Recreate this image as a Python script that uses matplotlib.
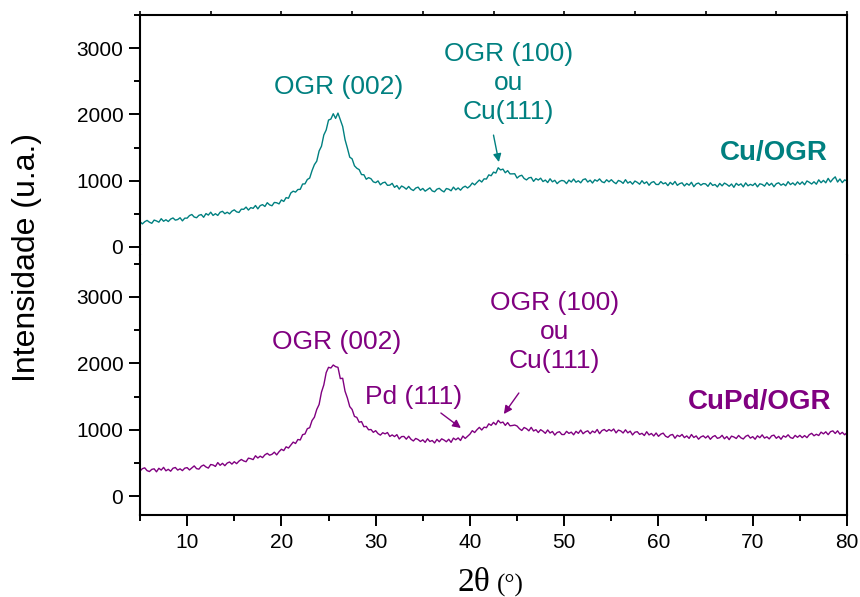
import numpy as np
import matplotlib
matplotlib.use("Agg")
import matplotlib.pyplot as plt
from matplotlib.ticker import MultipleLocator, FixedLocator

plt.rcParams['font.family'] = ['Liberation Sans', 'DejaVu Sans']

# 2-theta grid (degrees), 0.25 deg step from 5 to 80
two_theta = np.arange(5.0, 80.0001, 0.25)

# Cu/OGR diffractogram (counts)
cu_ogr = [
    382, 348, 381, 401, 374, 357, 406, 393, 374, 427, 388, 411, 384, 421, 438, 405, 414, 441, 394, 435,
    435, 474, 490, 452, 441, 478, 489, 448, 504, 481, 525, 476, 502, 476, 524, 538, 502, 524, 500, 540,
    560, 530, 521, 571, 568, 602, 557, 594, 583, 626, 575, 624, 639, 611, 668, 635, 622, 672, 667, 650,
    710, 687, 745, 735, 815, 842, 828, 867, 870, 950, 952, 1018, 1040, 1152, 1242, 1295, 1448, 1520, 1690, 1765,
    1915, 1930, 2010, 1940, 2020, 1920, 1818, 1620, 1492, 1355, 1330, 1225, 1188, 1167, 1092, 1090, 1022, 1046, 1030, 983,
    970, 997, 938, 968, 978, 930, 933, 960, 900, 927, 873, 920, 901, 872, 913, 872, 852, 889, 903, 856,
    883, 842, 868, 892, 846, 833, 872, 885, 852, 831, 882, 872, 848, 903, 862, 891, 857, 898, 917, 890,
    918, 965, 937, 975, 1010, 980, 1028, 1025, 1088, 1075, 1130, 1115, 1195, 1162, 1175, 1120, 1152, 1103, 1103, 1105,
    1040, 1070, 1082, 1033, 1012, 1043, 1050, 990, 1032, 1010, 1038, 987, 1010, 972, 1029, 983, 1006, 956, 989, 1004,
    995, 956, 1009, 980, 1025, 977, 999, 968, 1016, 1028, 980, 1008, 965, 1014, 993, 1027, 984, 970, 1014, 983,
    1015, 979, 955, 1004, 989, 960, 1015, 964, 987, 948, 995, 975, 947, 1000, 957, 983, 931, 973, 986, 944,
    942, 987, 953, 969, 926, 975, 942, 988, 930, 956, 968, 921, 958, 932, 976, 910, 952, 965, 932, 956,
    952, 915, 969, 929, 943, 906, 959, 922, 964, 944, 916, 950, 900, 960, 930, 953, 907, 967, 923, 945,
    927, 961, 907, 953, 944, 918, 971, 930, 961, 909, 955, 968, 932, 953, 924, 985, 941, 967, 933, 982,
    945, 982, 939, 996, 976, 950, 984, 947, 1013, 970, 1005, 968, 1035, 980, 1025, 1058, 980, 1026, 971, 1012,
    995,
]

# CuPd/OGR diffractogram (counts)
cupd_ogr = [
    377, 412, 425, 383, 369, 402, 410, 365, 418, 391, 432, 380, 403, 374, 419, 430, 391, 410, 383, 420,
    428, 393, 424, 454, 413, 405, 449, 467, 438, 421, 475, 468, 446, 504, 463, 493, 457, 497, 513, 481,
    517, 488, 526, 551, 529, 517, 571, 563, 549, 607, 573, 601, 579, 621, 643, 615, 629, 661, 620, 668,
    705, 685, 742, 723, 768, 813, 792, 852, 845, 925, 935, 1015, 1030, 1138, 1188, 1305, 1380, 1565, 1675, 1860,
    1940, 1930, 1975, 1950, 1940, 1770, 1775, 1580, 1478, 1348, 1305, 1200, 1185, 1112, 1122, 1045, 1050, 998, 1003, 960,
    985, 941, 918, 954, 937, 957, 898, 921, 896, 925, 860, 896, 898, 857, 901, 855, 830, 868, 851, 822,
    847, 809, 863, 822, 837, 800, 854, 818, 862, 844, 818, 856, 809, 873, 848, 876, 837, 904, 868, 900,
    933, 985, 957, 1000, 1035, 995, 1038, 1030, 1088, 1065, 1110, 1075, 1140, 1102, 1115, 1065, 1107, 1058, 1063, 1070,
    1055, 1015, 988, 1033, 1015, 983, 1035, 980, 1000, 957, 1000, 977, 945, 996, 950, 973, 919, 958, 969, 927,
    927, 975, 944, 963, 923, 975, 945, 994, 939, 968, 983, 939, 979, 956, 1003, 940, 986, 1003, 974, 1002,
    980, 1010, 952, 994, 981, 950, 998, 952, 978, 921, 962, 970, 929, 945, 912, 969, 921, 943, 905, 950,
    900, 933, 948, 902, 884, 918, 928, 871, 916, 897, 928, 880, 906, 869, 927, 882, 906, 857, 891, 907,
    875, 907, 855, 893, 911, 870, 880, 915, 863, 897, 850, 903, 890, 867, 913, 877, 860, 900, 917, 873,
    895, 856, 908, 879, 922, 873, 893, 861, 907, 918, 870, 899, 856, 907, 887, 923, 881, 869, 914, 885,
    915, 880, 911, 880, 925, 945, 908, 931, 912, 963, 937, 968, 925, 970, 982, 943, 983, 932, 960, 923,
    955,
]

y_ticks = [0, 1000, 2000, 3000]
x_ticks = [10, 20, 30, 40, 50, 60, 70, 80]

TEAL = '#008080'
PURPLE = '#800080'

W, H = 860, 597
fig = plt.figure(figsize=(W / 100, H / 100), dpi=100)

left, right = 140 / W, 847 / W
y_top, y_mid, y_bot = 1 - 15 / H, 1 - 255 / H, 1 - 515 / H

ax_top = fig.add_axes([left, y_mid, right - left, y_top - y_mid])
ax_bot = fig.add_axes([left, y_bot, right - left, y_mid - y_bot], sharex=ax_top)

ax_top.plot(two_theta, cu_ogr, color=TEAL, lw=1.0)
ax_bot.plot(two_theta, cupd_ogr, color=PURPLE, lw=1.0)

ax_top.set_xlim(5, 80)
ax_top.set_ylim(-121, 3500)
ax_bot.set_ylim(-286, 3633)

for ax in (ax_top, ax_bot):
    ax.yaxis.set_major_locator(FixedLocator(y_ticks))
    ax.yaxis.set_minor_locator(MultipleLocator(500))
    ax.tick_params(axis='y', which='major', direction='out', length=8, width=1.4,
                   labelsize=15, pad=4)
    ax.tick_params(axis='y', which='minor', direction='out', length=4.5, width=1.4)
    for s in ax.spines.values():
        s.set_linewidth(1.5)

ax_top.spines['bottom'].set_visible(False)
ax_bot.spines['top'].set_visible(False)

# Top panel: no bottom ticks, and a plain row of ticks along the top edge
ax_top.tick_params(axis='x', which='both', bottom=False, labelbottom=False)
top_twin = ax_top.twiny()
top_twin.set_xlim(0, 10)
top_twin.xaxis.set_major_locator(MultipleLocator(1))
top_twin.tick_params(axis='x', which='major', direction='out', length=3, width=1.2,
                     labeltop=False)
for s in top_twin.spines.values():
    s.set_visible(False)

ax_bot.xaxis.set_major_locator(FixedLocator(x_ticks))
ax_bot.xaxis.set_minor_locator(MultipleLocator(5))
ax_bot.tick_params(axis='x', which='major', direction='out', length=8, width=1.4,
                   labelsize=15, pad=5)
ax_bot.tick_params(axis='x', which='minor', direction='out', length=4.5, width=1.4)

# Axis labels
fig.text(27 / W, 1 - 258 / H, 'Intensidade (u.a.)', rotation=90, fontsize=23,
         ha='center', va='center')
fig.text(490 / W, 1 - 583 / H, '2\u03b8', fontsize=24, family='Liberation Serif',
         ha='right', va='center')
fig.text(497 / W, 1 - 585 / H, '(\u00b0)', fontsize=18, family='Liberation Serif',
         ha='left', va='center')

# Peak annotations
fs = 19
arrow_kw = dict(arrowstyle='-|>', lw=1.0, mutation_scale=12, shrinkA=0, shrinkB=0)

ax_top.text(26.1, 2412, 'OGR (002)', color=TEAL, fontsize=fs, ha='center', va='center')
ax_top.text(44.1, 2472, 'OGR (100)\nou\nCu(111)', color=TEAL, fontsize=fs,
            ha='center', va='center', linespacing=1.25)
ax_top.text(72.2, 1417, 'Cu/OGR', color=TEAL, fontsize=20, fontweight='bold',
            ha='center', va='center')
ax_top.annotate('', xy=(43.07, 1281), xytext=(42.5, 1688),
                arrowprops=dict(color=TEAL, **arrow_kw))

ax_bot.text(25.9, 2322, 'OGR (002)', color=PURPLE, fontsize=fs, ha='center', va='center')
ax_bot.text(49.0, 2472, 'OGR (100)\nou\nCu(111)', color=PURPLE, fontsize=fs,
            ha='center', va='center', linespacing=1.25)
ax_bot.text(34.06, 1493, 'Pd (111)', color=PURPLE, fontsize=fs, ha='center', va='center')
ax_bot.text(70.7, 1417, 'CuPd/OGR', color=PURPLE, fontsize=20, fontweight='bold',
            ha='center', va='center')
ax_bot.annotate('', xy=(39.04, 1025), xytext=(36.92, 1251),
                arrowprops=dict(color=PURPLE, **arrow_kw))
ax_bot.annotate('', xy=(43.6, 1236), xytext=(45.19, 1553),
                arrowprops=dict(color=PURPLE, **arrow_kw))

fig.savefig('out.png', dpi=100)
